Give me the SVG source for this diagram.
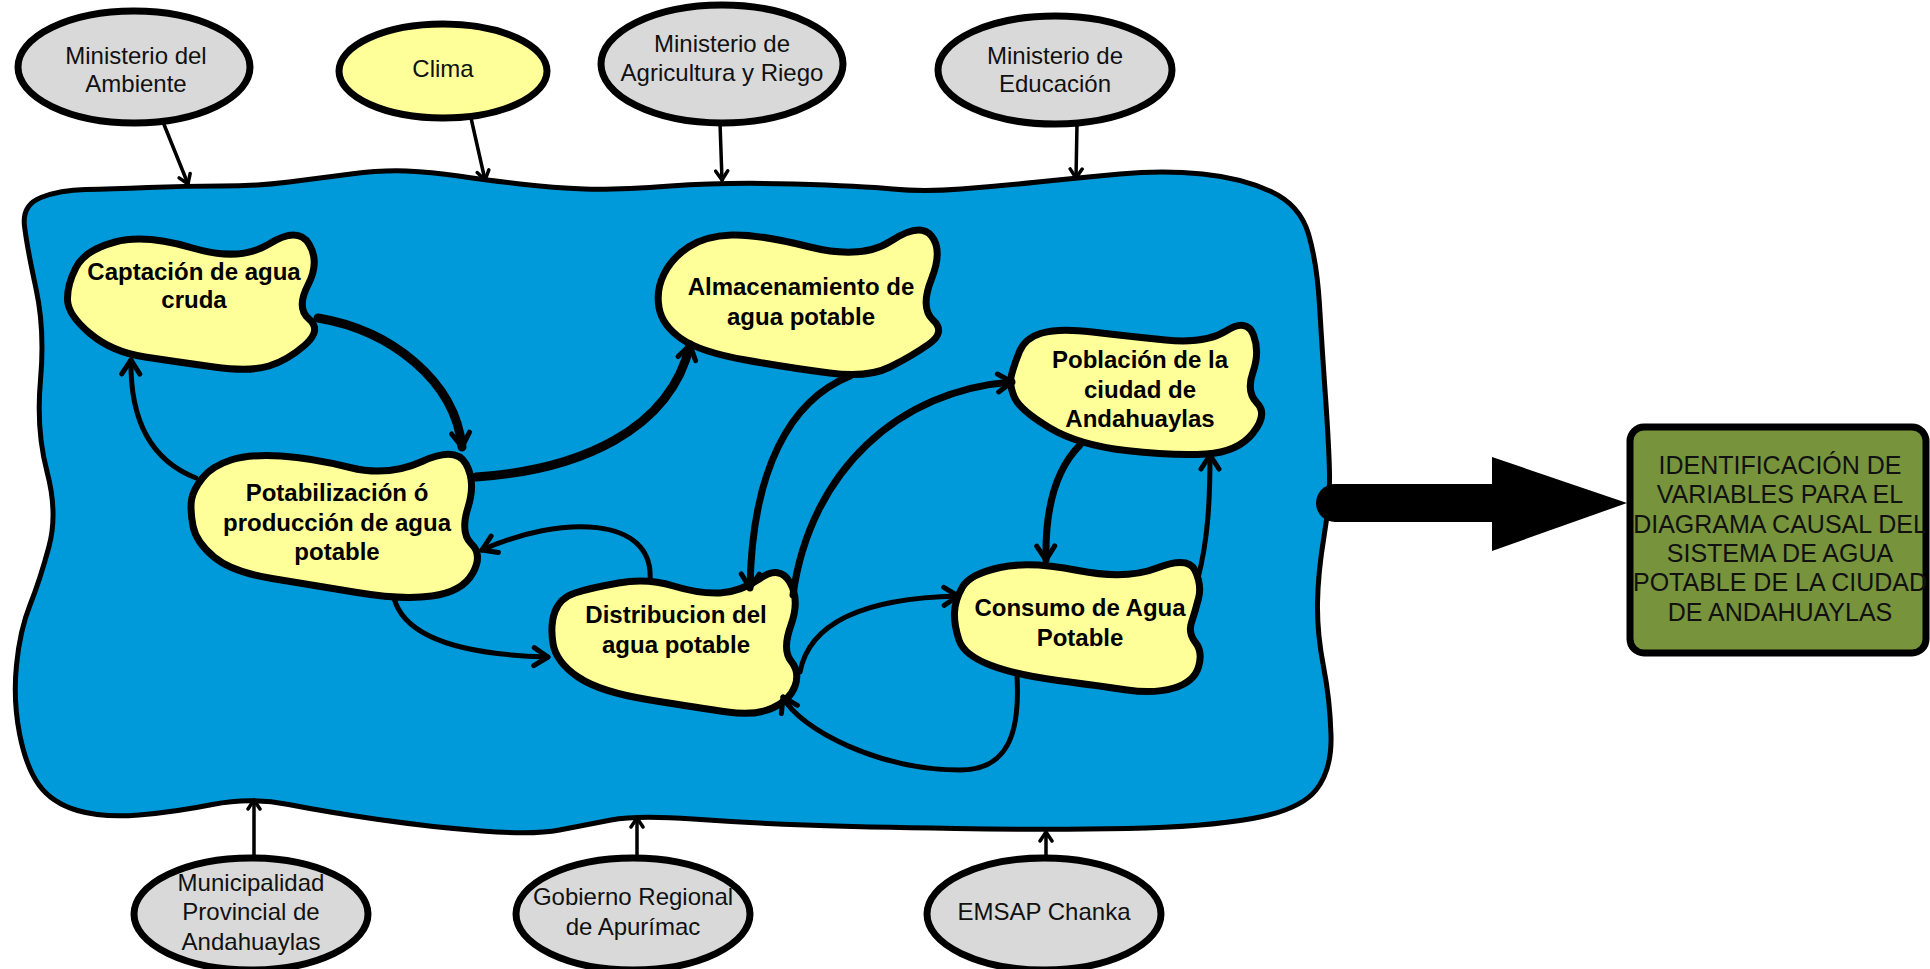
<svg xmlns="http://www.w3.org/2000/svg" width="1930" height="969" viewBox="0 0 1930 969">
<style>
.ell{stroke:#000;stroke-width:7}
.gray{fill:#d9d9d9}
.yel{fill:#ffff99}
.blob{fill:#ffff99;stroke:#000;stroke-width:7;stroke-linejoin:round}
.t{font-family:"Liberation Sans",Arial,sans-serif;font-size:24px;fill:#111;text-anchor:middle}
.b{font-family:"Liberation Sans",Arial,sans-serif;font-size:24px;font-weight:bold;fill:#000;text-anchor:middle}
.box{font-family:"Liberation Sans",Arial,sans-serif;font-size:25px;fill:#111;text-anchor:middle}
.c{fill:none;stroke:#000;stroke-linecap:round}
.c5{stroke-width:5;marker-end:url(#ah)}
.c7{stroke-width:7;marker-end:url(#ah)}
.c9{stroke-width:9;marker-end:url(#ah)}
.cs{stroke-width:3.5;marker-end:url(#as)}
</style>
<defs>
<marker id="ah" viewBox="0 0 24 24" refX="19" refY="12" markerWidth="24" markerHeight="24" markerUnits="userSpaceOnUse" orient="auto">
<path d="M5,3 L19,12 L5,21" fill="none" stroke="#000" stroke-width="5" stroke-linecap="round" stroke-linejoin="round"/>
</marker>
<marker id="as" viewBox="0 0 16 16" refX="13" refY="8" markerWidth="16" markerHeight="16" markerUnits="userSpaceOnUse" orient="auto">
<path d="M4,2 L13,8 L4,14" fill="none" stroke="#000" stroke-width="3.5" stroke-linecap="round" stroke-linejoin="round"/>
</marker>
</defs>
<rect width="1930" height="969" fill="#fff"/>

<g id="sistema">
<path fill="#0099da" stroke="#000" stroke-width="5" d="M41,197.5 Q60,190 85.5,189.5 Q111,189 148,187.5 Q185,186 221.5,186 Q258,186 289,182 Q320,178 351,174 Q382,170 406.5,171 Q431,172 458.5,176 Q486,180 520,184 Q554,188 584.5,189 Q615,190 670.5,186 Q726,182 794,184 Q862,186 892.5,189 Q923,192 961,189 Q999,186 1038,182 Q1077,178 1120,174 Q1163,170 1202.5,174 Q1242,178 1271,191.5 Q1300,205 1308.5,234 Q1317,263 1319.5,305 Q1322,347 1325.5,397 Q1329,447 1329.5,473.5 Q1330,500 1324,536.5 Q1318,573 1317.5,603 Q1317,633 1323.5,666.5 Q1330,700 1331,735 Q1332,770 1316,790 Q1300,810 1252.5,818.5 Q1205,827 1127.5,828.5 Q1050,830 955.5,828.5 Q861,827 805,825 Q749,823 693,819 Q637,815 611,820 Q585,825 559.5,830 Q534,835 482,831 Q430,827 378.5,819.5 Q327,812 288.5,804.5 Q250,797 212.5,804.5 Q175,812 139,815 Q103,818 77.5,810.5 Q52,803 39,785 Q26,767 19.5,733.5 Q13,700 16.5,665 Q20,630 30,605 Q40,580 49,546.5 Q58,513 47,471.5 Q36,430 40.5,380 Q45,330 36,288.5 Q27,247 24.5,226 Q22,205 41,197.5 Z"/>
</g>

<g id="ministerio-ambiente">
<ellipse class="ell gray" cx="134" cy="67" rx="116" ry="56"/>
<text class="t" x="136" y="64">Ministerio del</text>
<text class="t" x="136" y="92">Ambiente</text>
</g>
<g id="clima">
<ellipse class="ell yel" cx="443" cy="71" rx="104" ry="47"/>
<text class="t" x="443" y="77">Clima</text>
</g>
<g id="ministerio-agricultura">
<ellipse class="ell gray" cx="722" cy="64" rx="121" ry="59"/>
<text class="t" x="722" y="52">Ministerio de</text>
<text class="t" x="722" y="81">Agricultura y Riego</text>
</g>
<g id="ministerio-educacion">
<ellipse class="ell gray" cx="1055" cy="70" rx="117" ry="54"/>
<text class="t" x="1055" y="64">Ministerio de</text>
<text class="t" x="1055" y="92">Educación</text>
</g>
<g id="municipalidad">
<ellipse class="ell gray" cx="251" cy="914" rx="117" ry="56"/>
<text class="t" x="251" y="891">Municipalidad</text>
<text class="t" x="251" y="920">Provincial de</text>
<text class="t" x="251" y="950">Andahuaylas</text>
</g>
<g id="gobierno-regional">
<ellipse class="ell gray" cx="633" cy="914" rx="117" ry="56"/>
<text class="t" x="633" y="905">Gobierno Regional</text>
<text class="t" x="633" y="935">de Apurímac</text>
</g>
<g id="emsap">
<ellipse class="ell gray" cx="1044" cy="914" rx="117" ry="56"/>
<text class="t" x="1044" y="920">EMSAP Chanka</text>
</g>

<g id="captacion">
<path class="blob" d="M76,267.5 Q85,250 115,242 Q145,234 192.5,248 Q240,262 269,244 Q298,226 309,244 Q320,262 308,285 Q296,308 309,319 Q322,330 305,345 Q288,360 269,366 Q250,372 214,367 Q178,362 145,357 Q112,352 90,333.5 Q68,315 67.5,300 Q67,285 76,267.5 Z"/>
<text class="b" x="194" y="280">Captación de agua</text>
<text class="b" x="194" y="308">cruda</text>
</g>
<g id="almacenamiento">
<path class="blob" d="M664,274 Q672,258 688.5,247 Q705,236 731.5,235 Q758,234 810,247 Q862,260 891,241 Q920,222 931.5,236 Q943,250 931.5,279 Q920,308 933,320 Q946,332 929,344 Q912,356 890,367 Q868,378 829.5,373 Q791,368 745.5,360 Q700,352 681,338.5 Q662,325 659,307.5 Q656,290 664,274 Z"/>
<text class="b" x="801" y="295">Almacenamiento de</text>
<text class="b" x="801" y="325">agua potable</text>
</g>
<g id="poblacion">
<path class="blob" d="M1019.5,351.5 Q1025,338 1042,333 Q1059,328 1092.5,332 Q1126,336 1165.5,340 Q1205,344 1226,331 Q1247,318 1253.5,335 Q1260,352 1253,372 Q1246,392 1257,403 Q1268,414 1253,433 Q1238,452 1206,454 Q1174,456 1126,450.5 Q1078,445 1049,427.5 Q1020,410 1014.5,397.5 Q1009,385 1011.5,375 Q1014,365 1019.5,351.5 Z"/>
<text class="b" x="1140" y="368">Población de la</text>
<text class="b" x="1140" y="398">ciudad de</text>
<text class="b" x="1140" y="427">Andahuaylas</text>
</g>
<g id="potabilizacion">
<path class="blob" d="M202.5,478 Q212,466 231,460 Q250,454 281,456 Q312,458 350,467.5 Q388,477 422,461.5 Q456,446 466,464 Q476,482 468,507.5 Q460,533 471.5,544 Q483,555 472.5,573.5 Q462,592 432,596 Q402,600 357,592.5 Q312,585 272,578.5 Q232,572 214,557 Q196,542 193,526 Q190,510 191.5,500 Q193,490 202.5,478 Z"/>
<text class="b" x="337" y="501">Potabilización ó</text>
<text class="b" x="337" y="531">producción de agua</text>
<text class="b" x="337" y="560">potable</text>
</g>
<g id="distribucion">
<path class="blob" d="M555,611.5 Q560,598 575,593 Q590,588 618.5,583 Q647,578 673.5,586 Q700,594 720,593 Q740,592 760,578.5 Q780,565 790,582.5 Q800,600 791,625 Q782,650 791,661 Q800,672 795,686 Q790,700 772.5,708 Q755,716 727.5,712 Q700,708 650,700 Q600,692 578,677 Q556,662 553,643.5 Q550,625 555,611.5 Z"/>
<text class="b" x="676" y="623">Distribucion del</text>
<text class="b" x="676" y="653">agua potable</text>
</g>
<g id="consumo">
<path class="blob" d="M962.5,587 Q970,574 1000,567.5 Q1030,561 1078,570.5 Q1126,580 1157,568 Q1188,556 1195,570.5 Q1202,585 1198.5,598.5 Q1195,612 1191.5,622.5 Q1188,633 1195.5,642.5 Q1203,652 1198.5,667 Q1194,682 1174,688 Q1154,694 1127,690 Q1100,686 1058,680.5 Q1016,675 990,665 Q964,655 959,640 Q954,625 954.5,612.5 Q955,600 962.5,587 Z"/>
<text class="b" x="1080" y="616">Consumo de Agua</text>
<text class="b" x="1080" y="646">Potable</text>
</g>

<g id="resultado">
<rect x="1630" y="427" width="296" height="226" rx="14" fill="#77933c" stroke="#000" stroke-width="7"/>
<text class="box" x="1780" y="474">IDENTIFICACIÓN DE</text>
<text class="box" x="1780" y="503">VARIABLES PARA EL</text>
<text class="box" x="1780" y="533">DIAGRAMA CAUSAL DEL</text>
<text class="box" x="1780" y="562">SISTEMA DE AGUA</text>
<text class="box" x="1780" y="591">POTABLE DE LA CIUDAD</text>
<text class="box" x="1780" y="621">DE ANDAHUAYLAS</text>
</g>

<g id="connectors">
<path class="c cs" d="M163,122 L188,184"/>
<path class="c cs" d="M471,118 L485,180"/>
<path class="c cs" d="M720,123 L722,180"/>
<path class="c cs" d="M1077,124 L1076,178"/>
<path class="c cs" d="M254,858 L254,800"/>
<path class="c cs" d="M637,858 L637,818"/>
<path class="c cs" d="M1046,858 L1046,832"/>

<path class="c c9" d="M318,318 C390,330 455,380 462,447"/>
<path class="c c5" d="M196,478 C150,460 130,420 131,360"/>
<path class="c c9" d="M476,477 C580,470 670,430 690,345"/>
<path class="c c7" d="M850,376 C790,400 752,470 750,588"/>
<path class="c c5" d="M650,581 C655,515 560,515 482,550"/>
<path class="c c5" d="M394,598 C405,640 470,655 548,657"/>
<path class="c c7" d="M793,595 C810,470 900,390 1012,382"/>
<path class="c c7" d="M1080,445 C1055,470 1045,510 1046,560"/>
<path class="c c5" d="M1198,578 C1208,540 1210,500 1210,455"/>
<path class="c c5" d="M800,672 C810,620 870,598 958,596"/>
<path class="c c5" d="M1017,676 C1020,730 1010,770 960,770 C880,770 800,730 783,697"/>

<path fill="#000" d="M1335,484 L1495,484 L1495,522 L1335,522 A19,19 0 0 1 1335,484 Z"/>
<polygon fill="#000" points="1492,457 1627,503 1492,551"/>
</g>
</svg>
